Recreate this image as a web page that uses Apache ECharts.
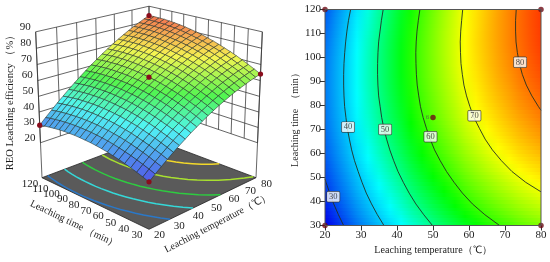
<!DOCTYPE html>
<html><head><meta charset="utf-8">
<style>html,body{margin:0;padding:0;background:#fff}#c{width:550px;height:262px}#c canvas{filter:blur(.3px)}</style>
<script src="https://cdn.jsdelivr.net/npm/echarts@6/dist/echarts.min.js"></script>
</head><body><div id="c"></div>
<script>
const temps=[20,23,26,29,32,35,38,41,44,47,50,53,56,59,62,65,68,71,74,77,80];
const times=[30,34.5,39,43.5,48,52.5,57,61.5,66,70.5,75,79.5,84,88.5,93,97.5,102,106.5,111,115.5,120];
const z030=[24.9,27.9,30.8,33.6,36.3,38.9,41.3,43.7,45.9,48.0,50.1,52.0,53.8,55.4,57.0,58.5,59.8,61.0,62.2,63.2,64.1];
const z034=[26.2,29.3,32.2,35.1,37.8,40.4,42.9,45.3,47.6,49.7,51.8,53.7,55.5,57.2,58.8,60.3,61.7,63.0,64.1,65.2,66.1];
const z039=[27.5,30.6,33.6,36.4,39.2,41.8,44.4,46.8,49.1,51.3,53.4,55.3,57.2,58.9,60.6,62.1,63.5,64.8,66.0,67.0,68.0];
const z043=[28.6,31.8,34.8,37.7,40.5,43.1,45.7,48.1,50.5,52.7,54.8,56.8,58.7,60.5,62.2,63.7,65.2,66.5,67.7,68.8,69.8];
const z048=[29.7,32.9,35.9,38.8,41.6,44.4,46.9,49.4,51.8,54.1,56.2,58.2,60.1,62.0,63.7,65.2,66.7,68.1,69.3,70.5,71.5];
const z052=[30.6,33.8,36.9,39.8,42.7,45.5,48.1,50.6,53.0,55.3,57.5,59.5,61.5,63.3,65.1,66.7,68.2,69.6,70.9,72.0,73.1];
const z057=[31.4,34.7,37.8,40.8,43.7,46.4,49.1,51.6,54.1,56.4,58.6,60.7,62.7,64.6,66.3,68.0,69.5,71.0,72.3,73.5,74.5];
const z061=[32.2,35.4,38.6,41.6,44.5,47.3,50.0,52.6,55.0,57.4,59.7,61.8,63.8,65.7,67.5,69.2,70.8,72.2,73.6,74.8,75.9];
const z066=[32.8,36.1,39.2,42.3,45.2,48.1,50.8,53.4,55.9,58.3,60.6,62.7,64.8,66.8,68.6,70.3,71.9,73.4,74.8,76.0,77.2];
const z070=[33.3,36.6,39.8,42.9,45.9,48.8,51.5,54.1,56.7,59.1,61.4,63.6,65.7,67.7,69.5,71.2,72.9,74.4,75.8,77.1,78.3];
const z075=[33.7,37.0,40.2,43.4,46.4,49.3,52.1,54.7,57.3,59.8,62.1,64.3,66.5,68.5,70.4,72.1,73.8,75.4,76.8,78.1,79.4];
const z079=[33.9,37.3,40.6,43.7,46.8,49.7,52.5,55.2,57.9,60.4,62.7,65.0,67.1,69.2,71.1,72.9,74.6,76.2,77.7,79.0,80.3];
const z084=[34.1,37.5,40.8,44.0,47.1,50.1,52.9,55.6,58.3,60.8,63.2,65.5,67.7,69.8,71.7,73.6,75.3,76.9,78.4,79.8,81.1];
const z088=[34.2,37.6,40.9,44.2,47.3,50.3,53.2,55.9,58.6,61.2,63.6,65.9,68.1,70.3,72.2,74.1,75.9,77.5,79.1,80.5,81.8];
const z093=[34.1,37.6,40.9,44.2,47.4,50.4,53.3,56.1,58.8,61.4,63.9,66.2,68.5,70.6,72.6,74.5,76.4,78.0,79.6,81.1,82.4];
const z097=[34.0,37.5,40.8,44.2,47.3,50.4,53.3,56.2,58.9,61.5,64.0,66.4,68.7,70.9,72.9,74.9,76.7,78.4,80.0,81.5,82.9];
const z102=[33.7,37.2,40.6,44.0,47.2,50.3,53.3,56.1,58.9,61.6,64.1,66.5,68.8,71.0,73.1,75.1,77.0,78.7,80.3,81.9,83.3];
const z106=[33.3,36.9,40.3,43.7,47.0,50.1,53.1,56.0,58.8,61.5,64.0,66.5,68.8,71.1,73.2,75.2,77.1,78.9,80.5,82.1,83.6];
const z111=[32.8,36.4,39.9,43.3,46.6,49.7,52.8,55.7,58.6,61.3,63.9,66.4,68.7,71.0,73.1,75.2,77.1,78.9,80.6,82.2,83.7];
const z115=[32.2,35.9,39.4,42.8,46.1,49.3,52.4,55.4,58.2,61.0,63.6,66.1,68.5,70.8,73.0,75.1,77.1,78.9,80.6,82.3,83.8];
const z120=[31.5,35.2,38.7,42.2,45.5,48.8,51.9,54.9,57.8,60.6,63.2,65.8,68.2,70.6,72.8,74.9,76.9,78.8,80.5,82.2,83.7];
const zRows=[z030,z034,z039,z043,z048,z052,z057,z061,z066,z070,z075,z079,z084,z088,z093,z097,z102,z106,z111,z115,z120];

const tempTicks=[20,30,40,50,60,70,80];
const timeTicks=[30,40,50,60,70,80,90,100,110,120];
const effTicks=[20,30,40,50,60,70,80,90];
const planeLevels=[30,40,50,60,70,80];
const floorLevels=[35,45,55,65,75];
const floorColors=['#2a78c8','#35d8d8','#2ecc40','#a8e030','#f2d82a'];
const designT=[20,80,80,20,50];
const designTime=[120,120,30,30,75];
const designZ=[31.5,83.7,64.1,24.9,62.1];
const labelT=[22.3,26.4,36.7,49.3,61.5,74.2];
const labelTime=[42,71,70,67,75.7,98];

const FONT='"Liberation Serif","Times New Roman",serif';
const INK='#1c1c1c';
/* colour ramp */
const rampZ=[25,44,57,71,85];
const rampC=[[0,0,235],[0,255,255],[0,255,0],[255,255,0],[255,40,0]];
function ramp(z){
  if(z<=rampZ[0])return rampC[0];
  for(let i=0;i<4;i++){ if(z<=rampZ[i+1]){const f=(z-rampZ[i])/(rampZ[i+1]-rampZ[i]);
    return rampC[i].map((c,k)=>c+(rampC[i+1][k]-c)*f);} }
  return rampC[4];
}
const css=c=>`rgb(${c.map(Math.round).join(',')})`;
const pale=(c,a)=>c.map(v=>(v+(255-v)*a)*0.96);

/* camera for the 3D panel */
function proj(T,t,Z){
  const X=(T-50)/30,Y=(t-75)/45,D=(X+Y)/2,S=(X-Y)/2;
  const w=1+0.123*D-0.056*Z;
  return [149+107*S/w,(177.7-23.4*D-147.8*Z)/w];
}
const heightOf=z=>0.25+(z-20)*0.0107;
const pSurf=(T,t,z)=>proj(T,t,heightOf(z));

function contourPts(level){
  const pts=[];const cross=r=>{for(let i=0;i<20;i++){if((r[i]-level)*(r[i+1]-level)<=0)return i;}return -1;};
  for(let j=0;j<21;j++){
    const r=zRows[j],i=cross(r);
    if(j>0&&((i<0)!==(cross(zRows[j-1])<0))){
      for(const c of [0,20]){const a=zRows[j-1][c],b=r[c];
        if((a-level)*(b-level)<=0&&a!==b){pts.push([temps[c],times[j-1]+(times[j]-times[j-1])*(level-a)/(b-a)]);break;}}
    }
    if(i>=0){const f=(level-r[i])/(r[i+1]-r[i]);pts.push([temps[i]+(temps[i+1]-temps[i])*f,times[j]]);}
  }
  return pts;
}

/* 3D panel primitives */
const line3=(a,b)=>({a,b});
const wall=[];
for(const z of effTicks){
  wall.push(line3(pSurf(20,120,z),pSurf(80,120,z)));
  wall.push(line3(pSurf(80,120,z),pSurf(80,30,z)));
}
for(const T of tempTicks) wall.push(line3(pSurf(T,120,20),pSurf(T,120,90)));
for(const t of timeTicks) wall.push(line3(pSurf(80,t,20),pSurf(80,t,90)));
wall.push(line3(proj(20,120,0),pSurf(20,120,90)));
wall.push(line3(proj(80,30,0),pSurf(80,30,90)));

const cells=[];
for(let s=40;s>=0;s--)for(let i=0;i<20;i++){const j=s-i;if(j>=0&&j<20)cells.push([i,j]);}

const texts=[];
const txt=(s,p,opt)=>texts.push(Object.assign({s,x:p[0],y:p[1],rot:0,size:11,align:'center'},opt));
for(const z of effTicks){const p=pSurf(20,120,z);txt(String(z),[p[0]-5,p[1]-5],{align:'right'});}
for(const T of tempTicks){const p=proj(T,30,0);txt(String(T),[p[0]+10.5,p[1]+6]);}
for(const t of timeTicks){const p=proj(20,t,0);txt(String(t),[p[0]-12,p[1]+6]);}
txt('REO Leaching efficiency （%）',[10,100],{rot:Math.PI/2,size:10.5});
txt('Leaching time （min）',[74,224],{rot:-0.45,size:10.1});
txt('Leaching temperature（℃）',[217.3,223.3],{rot:0.48,size:10.1});

const silent={silent:true,animation:false,progressive:0,coordinateSystem:'none'};
const idx=a=>a.map((_,i)=>[i]);
const series=[];
series.push(Object.assign({type:'custom',z:1,data:[[0]],renderItem(){
  return {type:'polygon',shape:{points:[proj(20,30,0),proj(80,30,0),proj(80,120,0),proj(20,120,0)]},
    style:{fill:'#5a5a5a',stroke:'#222',lineWidth:.8}};
}},silent));
series.push(Object.assign({type:'custom',z:1,data:idx(wall),renderItem(p,api){
  const l=wall[api.value(0)];
  return {type:'line',shape:{x1:l.a[0],y1:l.a[1],x2:l.b[0],y2:l.b[1]},style:{stroke:'#333',lineWidth:.75}};
}},silent));
series.push(Object.assign({type:'custom',z:2,data:idx(floorLevels),renderItem(p,api){
  const k=api.value(0);
  return {type:'polyline',shape:{points:contourPts(floorLevels[k]).map(q=>proj(q[0],q[1],0))},
    style:{fill:null,stroke:floorColors[k],lineWidth:1.5}};
}},silent));
series.push(Object.assign({type:'custom',z:3,data:cells,renderItem(p,api){
  const i=api.value(0),j=api.value(1);
  const a=zRows[j][i],b=zRows[j][i+1],c=zRows[j+1][i+1],d=zRows[j+1][i];
  return {type:'polygon',shape:{points:[pSurf(temps[i],times[j],a),pSurf(temps[i+1],times[j],b),
      pSurf(temps[i+1],times[j+1],c),pSurf(temps[i],times[j+1],d)]},
    style:{fill:css(pale(ramp((a+b+c+d)/4),.33)),stroke:'rgba(35,45,40,.85)',lineWidth:.65}};
}},silent));
series.push(Object.assign({type:'custom',z:4,data:idx(designT),renderItem(p,api){
  const k=api.value(0);const q=pSurf(designT[k],designTime[k],designZ[k]);
  return {type:'circle',shape:{cx:q[0],cy:q[1],r:2.6},style:{fill:'#8a0c1c'}};
}},silent));
series.push(Object.assign({type:'custom',z:5,data:idx(texts),renderItem(p,api){
  const o=texts[api.value(0)];
  return {type:'text',x:o.x,y:o.y,rotation:o.rot,style:{text:o.s,fill:INK,font:`${o.size}px ${FONT}`,align:o.align,verticalAlign:'middle'}};
}},silent));

/* contour plane */
const planeCells=[];
for(let j=0;j<20;j++)for(let i=0;i<20;i++)planeCells.push([temps[i],times[j],i,j]);
series.push({type:'custom',coordinateSystem:'cartesian2d',xAxisIndex:0,yAxisIndex:0,z:2,silent:true,animation:false,progressive:0,
  data:planeCells,encode:{x:0,y:1},clip:true,renderItem(p,api){
    const i=api.value(2),j=api.value(3),N=3,kids=[];
    const x0=Math.round(api.coord([temps[i],times[j]])[0]),x1=Math.round(api.coord([temps[i+1],times[j]])[0]);
    for(let n=0;n<N;n++){
      const f0=n/N,f1=(n+1)/N,fm=(n+.5)/N;
      const y0=Math.round(api.coord([temps[i],times[j]+(times[j+1]-times[j])*f0])[1]);
      const y1=Math.round(api.coord([temps[i],times[j]+(times[j+1]-times[j])*f1])[1]);
      const zl=zRows[j][i]+(zRows[j+1][i]-zRows[j][i])*fm,zr=zRows[j][i+1]+(zRows[j+1][i+1]-zRows[j][i+1])*fm;
      kids.push({type:'rect',shape:{x:x0,y:y1,width:x1-x0,height:y0-y1},
        style:{fill:new echarts.graphic.LinearGradient(0,0,1,0,[{offset:0,color:css(ramp(zl))},{offset:1,color:css(ramp(zr))}])}});
    }
    return {type:'group',children:kids};
}});
planeLevels.forEach(l=>series.push({type:'line',xAxisIndex:0,yAxisIndex:0,z:3,data:contourPts(l),symbol:'none',silent:true,animation:false,
  lineStyle:{color:'#223022',width:.9}}));
series.push({type:'scatter',xAxisIndex:0,yAxisIndex:0,z:6,clip:false,silent:true,animation:false,symbolSize:1,
  itemStyle:{color:'rgba(0,0,0,0)'},
  data:labelT.map((T,k)=>({value:[T,labelTime[k]],label:{formatter:String(planeLevels[k])}})),
  label:{show:true,position:'inside',fontFamily:FONT,fontSize:8.5,color:INK,backgroundColor:'#fff',borderColor:'#333',borderWidth:.7,padding:[1,2,0,2],borderRadius:1}});
series.push({type:'scatter',xAxisIndex:0,yAxisIndex:0,z:7,clip:false,silent:true,animation:false,symbolSize:5.5,
  itemStyle:{color:'#6e0c16'},
  data:designT.map((T,k)=>({value:[T,designTime[k]],label:k===4?{show:true,position:'left',distance:1,formatter:'6',fontSize:7,fontFamily:FONT,color:'#555'}:{show:false}}))});

const axisCommon={type:'value',axisLine:{show:true,onZero:false,lineStyle:{color:'#333',width:1}},
  axisTick:{show:true,length:5,lineStyle:{color:'#333'}},splitLine:{show:false},
  axisLabel:{fontFamily:FONT,fontSize:11,color:INK,margin:4,hideOverlap:false},
  nameLocation:'center',nameTextStyle:{fontFamily:FONT,fontSize:10.1,color:INK}};
const chart=echarts.init(document.getElementById('c'),null,{renderer:'canvas'});
chart.setOption({animation:false,backgroundColor:'#fff',
  grid:{left:325,top:9.5,width:216,height:216,show:true,borderColor:'#555',borderWidth:1,backgroundColor:'transparent',z:10},
  xAxis:Object.assign({},axisCommon,{min:20,max:80,interval:10,name:'Leaching temperature（℃）',nameGap:19}),
  yAxis:Object.assign({},axisCommon,{min:30,max:120,interval:10,name:'Leaching time  （min）',nameGap:24}),
  series});
</script></body></html>
